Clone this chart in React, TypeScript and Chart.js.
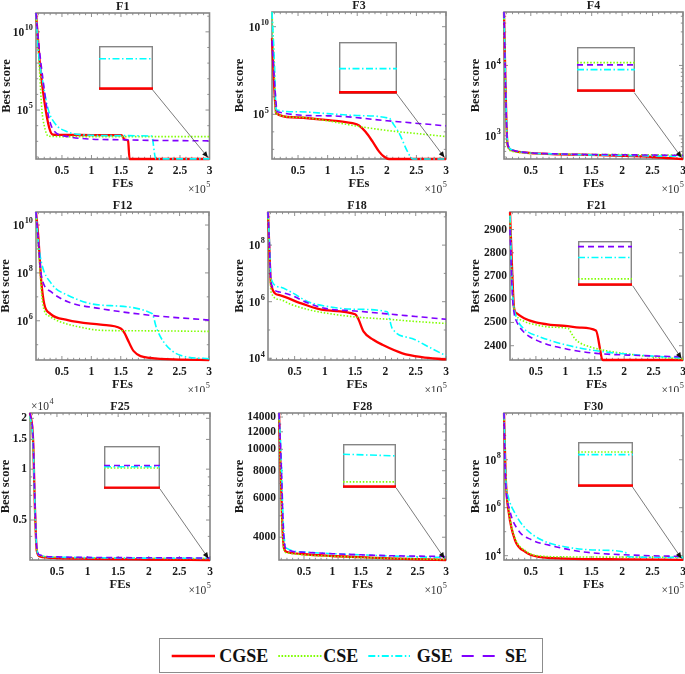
import React, { useEffect, useRef } from 'react';
import { Chart, registerables } from 'chart.js';

Chart.register(...registerables);

type Pt = [number, number];
type InsetVal = number | [number, number] | null;

const SERIES_NAMES = ['CGSE', 'CSE', 'GSE', 'SE'];
const COLORS = ['#ff0000', '#7fff00', '#00ffff', '#8000ff'];
const DASHES: number[][] = [[], [1.5, 1.8], [7, 2.5, 1.5, 2.5], [6, 4]];
const WIDTHS = [2.3, 1.6, 1.6, 1.6];

const X_MIN = 0.06;
const X_MAX = 3;
const X_MAJOR = [0.5, 1, 1.5, 2, 2.5, 3];
const X_LABELS = ['0.5', '1', '1.5', '2', '2.5', '3'];
const X_MINOR = [0.1, 0.2, 0.3, 0.4, 0.6, 0.7, 0.8, 0.9, 1.1, 1.2, 1.3, 1.4, 1.6, 1.7, 1.8, 1.9, 2.1, 2.2, 2.3, 2.4, 2.6, 2.7, 2.8, 2.9];

// ---------- F1 ----------
const F1_CGSE: Pt[] = [[0.06, 1.6e11], [0.1, 1.6e9], [0.13, 6.3e7], [0.2, 4e5], [0.285, 7100], [0.35, 2630], [0.6, 2550], [1.0, 2520], [1.51, 2510], [1.56, 1300], [1.62, 1120], [1.645, 74], [3, 74]];
const F1_CSE: Pt[] = [[0.06, 1.6e11], [0.09, 3.2e9], [0.12, 3.2e7], [0.16, 1e5], [0.2, 1e4], [0.27, 2100], [0.5, 2000], [1, 2000], [2, 1990], [3, 1980]];
const F1_GSE: Pt[] = [[0.06, 1.6e11], [0.1, 6.3e8], [0.18, 5e6], [0.27, 1e5], [0.38, 1.4e4], [0.58, 4200], [0.86, 2600], [1.5, 2300], [2.02, 2150], [2.09, 75], [3, 75]];
const F1_SE: Pt[] = [[0.06, 1.6e11], [0.1, 3e9], [0.18, 8e6], [0.25, 1e5], [0.35, 5600], [0.6, 2000], [1, 1380], [1.5, 1260], [2, 1150], [3, 1070]];
const F1_Y_MAJOR = [1e5, 1e10];
const F1_Y_LABELS = ['10^5', '10^10'];
const F1_Y_MINOR = [1e2, 1e3, 1e4, 1e6, 1e7, 1e8, 1e9, 1e11];
const F1_INSET: InsetVal[] = [0, null, 0.7, null];

// ---------- F3 ----------
const F3_CGSE: Pt[] = [[0.06, 2.2e9], [0.13, 1.15e5], [0.4, 6.8e4], [0.96, 4.8e4], [1.42, 3.1e4], [1.53, 2.3e4], [1.64, 1e4], [1.76, 2750], [1.87, 740], [1.95, 390], [2.04, 282], [3, 282]];
const F3_CSE: Pt[] = [[0.06, 6.9e10], [0.1, 3e7], [0.12, 1.15e5], [0.5, 6.8e4], [1, 4.2e4], [1.5, 2.1e4], [2.1, 1.1e4], [2.5, 8e3], [3, 5.4e3]];
const F3_GSE: Pt[] = [[0.06, 6.9e10], [0.1, 1e8], [0.13, 1.8e5], [0.5, 1.4e5], [1, 1.1e5], [1.5, 8.5e4], [2.04, 5.9e4], [2.12, 2.5e4], [2.21, 8300], [2.35, 740], [2.44, 283], [3, 283]];
const F3_SE: Pt[] = [[0.06, 1.6e9], [0.11, 3e6], [0.15, 1.4e5], [1, 8.2e4], [2, 4.3e4], [3, 2.2e4]];
const F3_Y_MAJOR = [1e5, 1e10];
const F3_Y_LABELS = ['10^5', '10^10'];
const F3_Y_MINOR = [1e3, 1e4, 1e6, 1e7, 1e8, 1e9];
const F3_INSET: InsetVal[] = [0, null, 0.47, null];

// ---------- F4 ----------
const F4_CGSE: Pt[] = [[0.06, 57500], [0.08, 8000], [0.1, 1500], [0.12, 740], [0.2, 620], [0.34, 585], [1, 545], [1.5, 535], [2, 520], [2.5, 500], [3, 468]];
const F4_CSE: Pt[] = [[0.06, 57500], [0.08, 7000], [0.1, 1300], [0.12, 700], [0.2, 600], [0.34, 575], [1, 550], [2, 540], [3, 532]];
const F4_GSE: Pt[] = [[0.06, 57500], [0.08, 9000], [0.1, 1700], [0.12, 780], [0.2, 630], [0.34, 590], [1, 548], [2, 525], [3, 510]];
const F4_SE: Pt[] = [[0.06, 57500], [0.08, 8500], [0.1, 1600], [0.12, 760], [0.2, 625], [0.34, 588], [1, 552], [2, 538], [3, 527]];
const F4_Y_MAJOR = [1e3, 1e4];
const F4_Y_LABELS = ['10^3', '10^4'];
const F4_Y_MINOR = [500, 600, 700, 800, 900, 2000, 3000, 4000, 5000, 6000, 7000, 8000, 9000, 20000, 30000, 40000, 50000];
const F4_INSET: InsetVal[] = [0, 0.64, 0.48, 0.59];

// ---------- F12 ----------
const F12_CGSE: Pt[] = [[0.06, 3.5e10], [0.1, 3e9], [0.15, 4.3e7], [0.2, 5e6], [0.3, 2e6], [0.6, 1.07e6], [1.16, 6.9e5], [1.5, 4.8e5], [1.56, 3.2e5], [1.61, 1.8e5], [1.72, 5.4e4], [2, 2.8e4], [2.5, 2.4e4], [3, 2.3e4]];
const F12_CSE: Pt[] = [[0.06, 3.5e10], [0.09, 2e9], [0.12, 2.9e8], [0.16, 1e7], [0.2, 2.75e6], [0.3, 1.5e6], [0.48, 8.9e5], [0.8, 5.5e5], [1.16, 4e5], [2, 3.8e5], [3, 3.6e5]];
const F12_GSE: Pt[] = [[0.06, 3.5e10], [0.1, 2e9], [0.15, 2.9e8], [0.32, 3.6e7], [0.6, 1.17e7], [1.16, 4.5e6], [2.03, 2e6], [2.11, 4.8e5], [2.23, 1.3e5], [2.51, 3.6e4], [3, 2.6e4]];
const F12_SE: Pt[] = [[0.06, 3.5e10], [0.1, 2e9], [0.15, 8e7], [0.32, 1.6e7], [0.6, 6.2e6], [1.16, 3.2e6], [2, 1.7e6], [3, 1.07e6]];
const F12_Y_MAJOR = [1e6, 1e8, 1e10];
const F12_Y_LABELS = ['10^6', '10^8', '10^10'];
const F12_Y_MINOR = [1e5, 1e7, 1e9];

// ---------- F18 ----------
const F18_CGSE: Pt[] = [[0.06, 1.48e9], [0.08, 1e8], [0.11, 3.9e6], [0.25, 1.7e6], [0.61, 8.7e5], [1, 5e5], [1.5, 3.6e5], [1.55, 2.5e5], [1.64, 8.7e4], [1.8, 4.5e4], [1.95, 3e4], [2.28, 1.5e4], [2.6, 1.1e4], [3, 9100]];
const F18_CSE: Pt[] = [[0.06, 1.48e9], [0.08, 1e8], [0.11, 2.2e6], [0.25, 1.2e6], [0.44, 8e5], [0.72, 5.3e5], [1, 4e5], [1.5, 2.9e5], [2.03, 2.4e5], [2.5, 2e5], [3, 1.7e5]];
const F18_GSE: Pt[] = [[0.06, 1.48e9], [0.08, 2e8], [0.11, 6.6e6], [0.25, 3.3e6], [0.44, 2.2e6], [0.72, 1e6], [1, 7e5], [1.5, 5.4e5], [2.03, 4.4e5], [2.11, 1.15e5], [2.44, 5e4], [2.75, 2.3e4], [3, 1.23e4]];
const F18_SE: Pt[] = [[0.06, 1.48e9], [0.08, 1.5e8], [0.11, 4.5e6], [0.25, 2.2e6], [0.44, 1.7e6], [0.72, 9e5], [1, 5.8e5], [1.5, 4.7e5], [2.03, 3.7e5], [2.5, 3e5], [3, 2.4e5]];
const F18_Y_MAJOR = [1e4, 1e6, 1e8];
const F18_Y_LABELS = ['10^4', '10^6', '10^8'];
const F18_Y_MINOR = [1e5, 1e7, 1e9];

// ---------- F21 ----------
const F21_CGSE: Pt[] = [[0.06, 2975], [0.1, 2700], [0.13, 2560], [0.17, 2540], [0.3, 2518], [0.5, 2500], [0.75, 2490], [1, 2485], [1.25, 2478], [1.52, 2465], [1.64, 2338.5], [3, 2338.5]];
const F21_CSE: Pt[] = [[0.06, 2960], [0.1, 2650], [0.13, 2560], [0.17, 2530], [0.3, 2505], [0.5, 2490], [0.75, 2480], [1.05, 2474], [1.1, 2455], [1.16, 2431], [1.25, 2412], [1.42, 2395], [1.7, 2378], [1.98, 2367], [2.5, 2352], [3, 2343]];
const F21_GSE: Pt[] = [[0.06, 2960], [0.1, 2640], [0.13, 2560], [0.17, 2520], [0.29, 2474], [0.57, 2438], [1.02, 2403], [1.53, 2378], [2.09, 2363], [2.5, 2355], [3, 2347]];
const F21_SE: Pt[] = [[0.06, 2900], [0.1, 2620], [0.13, 2540], [0.17, 2505], [0.29, 2460], [0.57, 2417], [1.02, 2386], [1.53, 2367], [2.26, 2358], [3, 2352]];
const F21_Y_MAJOR = [2400, 2500, 2600, 2700, 2800, 2900];
const F21_Y_LABELS = ['2400', '2500', '2600', '2700', '2800', '2900'];
const F21_Y_MINOR: number[] = [];
const F21_INSET: InsetVal[] = [0, 0.13, 0.62, 0.87];

// ---------- F25 ----------
const F25_CGSE: Pt[] = [[0.06, 21500], [0.11, 15000], [0.14, 6000], [0.17, 3300], [0.22, 3050], [0.5, 2980], [1, 2950], [2, 2920], [3, 2900]];
const F25_CSE: Pt[] = [[0.06, 20500], [0.11, 14000], [0.14, 5800], [0.17, 3350], [0.22, 3080], [0.5, 3010], [1, 2990], [2, 2970], [3, 2960]];
const F25_GSE: Pt[] = [[0.06, 20800], [0.11, 14500], [0.14, 6200], [0.17, 3400], [0.22, 3090], [0.5, 3015], [1, 2995], [2, 2975], [3, 2965]];
const F25_SE: Pt[] = [[0.06, 21500], [0.11, 15500], [0.14, 6500], [0.17, 3450], [0.22, 3100], [0.5, 3025], [1, 3005], [2, 2990], [3, 2980]];
const F25_Y_MAJOR = [5000, 10000, 15000, 20000];
const F25_Y_LABELS = ['0.5', '1', '1.5', '2'];
const F25_Y_MINOR = [3000, 4000, 6000, 7000, 8000, 9000];
const F25_INSET: InsetVal[] = [0, 0.47, 0.5, 0.53];

// ---------- F28 ----------
const F28_CGSE: Pt[] = [[0.06, 14600], [0.09, 8000], [0.12, 4500], [0.15, 3550], [0.2, 3430], [0.5, 3350], [1, 3290], [1.5, 3250], [2, 3210], [2.5, 3180], [3, 3155]];
const F28_CSE: Pt[] = [[0.06, 14000], [0.09, 7500], [0.12, 4300], [0.15, 3480], [0.2, 3400], [0.5, 3330], [1, 3280], [1.5, 3240], [2, 3210], [2.5, 3190], [3, 3170]];
const F28_GSE: Pt[] = [[0.06, 14600], [0.1, 9000], [0.13, 5000], [0.16, 3800], [0.2, 3560], [0.5, 3430], [1, 3370], [1.5, 3330], [2, 3290], [2.5, 3260], [3, 3240]];
const F28_SE: Pt[] = [[0.06, 14600], [0.1, 8500], [0.13, 4800], [0.16, 3700], [0.2, 3520], [0.5, 3420], [1, 3370], [1.5, 3330], [2, 3300], [2.5, 3285], [3, 3270]];
const F28_Y_MAJOR = [4000, 6000, 8000, 10000, 12000, 14000];
const F28_Y_LABELS = ['4000', '6000', '8000', '10000', '12000', '14000'];
const F28_Y_MINOR = [5000, 7000, 9000, 11000, 13000];
const F28_INSET: InsetVal[] = [0, 0.11, [0.76, 0.72], null];

// ---------- F30 ----------
const F30_CGSE: Pt[] = [[0.06, 8.9e9], [0.09, 1.45e7], [0.14, 5.9e5], [0.24, 4.5e4], [0.41, 1.45e4], [0.63, 8900], [1.08, 7600], [2, 7000], [3, 6700]];
const F30_CSE: Pt[] = [[0.06, 8.9e9], [0.09, 2e7], [0.14, 7e5], [0.24, 5.5e4], [0.41, 1.6e4], [0.63, 9800], [1.08, 8900], [2, 8700], [3, 8600]];
const F30_GSE: Pt[] = [[0.06, 8.9e9], [0.09, 1.45e7], [0.13, 2.9e6], [0.24, 5.9e5], [0.41, 1.4e5], [0.68, 4.5e4], [1.08, 2.3e4], [1.63, 1.7e4], [2.05, 1.4e4], [2.1, 9000], [3, 8500]];
const F30_SE: Pt[] = [[0.06, 8.9e9], [0.08, 3e7], [0.155, 8e5], [0.29, 1.2e5], [0.52, 4.5e4], [0.8, 2.75e4], [1.35, 1.45e4], [2.19, 1.05e4], [3, 9300]];
const F30_Y_MAJOR = [1e4, 1e6, 1e8];
const F30_Y_LABELS = ['10^4', '10^6', '10^8'];
const F30_Y_MINOR = [1e5, 1e7, 1e9];
const F30_INSET: InsetVal[] = [0, 0.77, 0.71, null];

type Panel = {
  title: string;
  series: Pt[][];
  cell: [number, number, number, number];
  plot: [number, number, number, number];
  yType: 'linear' | 'logarithmic';
  yMin: number;
  yMax: number;
  yMajor: number[];
  yLabels: string[];
  yMinor: number[];
  labelX: number;
  mult?: string;
  inset?: { rect: [number, number, number, number]; values: InsetVal[] };
};

const PANELS: Panel[] = [
  { title: 'F1', series: [F1_CGSE, F1_CSE, F1_GSE, F1_SE], cell: [0, 0, 228, 193], plot: [36, 13, 209.5, 159], yType: 'logarithmic', yMin: 74, yMax: 1.6e11, yMajor: F1_Y_MAJOR, yLabels: F1_Y_LABELS, yMinor: F1_Y_MINOR, labelX: 7, inset: { rect: [99, 45.7, 152.7, 90], values: F1_INSET } },
  { title: 'F3', series: [F3_CGSE, F3_CSE, F3_GSE, F3_SE], cell: [228, 0, 456, 193], plot: [272, 12, 446, 159], yType: 'logarithmic', yMin: 282, yMax: 6.9e10, yMajor: F3_Y_MAJOR, yLabels: F3_Y_LABELS, yMinor: F3_Y_MINOR, labelX: 240, inset: { rect: [338.7, 41.7, 396.3, 93.3], values: F3_INSET } },
  { title: 'F4', series: [F4_CGSE, F4_CSE, F4_GSE, F4_SE], cell: [456, 0, 685, 193], plot: [504, 12, 683, 159], yType: 'logarithmic', yMin: 468, yMax: 57500, yMajor: F4_Y_MAJOR, yLabels: F4_Y_LABELS, yMinor: F4_Y_MINOR, labelX: 476, inset: { rect: [576.7, 47.3, 634.3, 92.7], values: F4_INSET } },
  { title: 'F12', series: [F12_CGSE, F12_CSE, F12_GSE, F12_SE], cell: [0, 193, 228, 392], plot: [36, 212, 209, 360], yType: 'logarithmic', yMin: 2.3e4, yMax: 3.5e10, yMajor: F12_Y_MAJOR, yLabels: F12_Y_LABELS, yMinor: F12_Y_MINOR, labelX: 6 },
  { title: 'F18', series: [F18_CGSE, F18_CSE, F18_GSE, F18_SE], cell: [228, 193, 456, 392], plot: [268, 212, 446, 360], yType: 'logarithmic', yMin: 8700, yMax: 1.48e9, yMajor: F18_Y_MAJOR, yLabels: F18_Y_LABELS, yMinor: F18_Y_MINOR, labelX: 240 },
  { title: 'F21', series: [F21_CGSE, F21_CSE, F21_GSE, F21_SE], cell: [456, 193, 685, 392], plot: [510, 212, 683, 360], yType: 'linear', yMin: 2338.5, yMax: 2975.6, yMajor: F21_Y_MAJOR, yLabels: F21_Y_LABELS, yMinor: F21_Y_MINOR, labelX: 476, inset: { rect: [578.3, 240.7, 632.7, 285.7], values: F21_INSET } },
  { title: 'F25', series: [F25_CGSE, F25_CSE, F25_GSE, F25_SE], cell: [0, 392, 228, 596], plot: [30, 413, 210, 560], yType: 'logarithmic', yMin: 2900, yMax: 21500, yMajor: F25_Y_MAJOR, yLabels: F25_Y_LABELS, yMinor: F25_Y_MINOR, labelX: 6, mult: '4', inset: { rect: [104, 446, 160, 489], values: F25_INSET } },
  { title: 'F28', series: [F28_CGSE, F28_CSE, F28_GSE, F28_SE], cell: [228, 392, 456, 596], plot: [279, 413, 446, 560], yType: 'logarithmic', yMin: 3155, yMax: 14600, yMajor: F28_Y_MAJOR, yLabels: F28_Y_LABELS, yMinor: F28_Y_MINOR, labelX: 240, inset: { rect: [342.7, 444, 396, 487.7], values: F28_INSET } },
  { title: 'F30', series: [F30_CGSE, F30_CSE, F30_GSE, F30_SE], cell: [456, 392, 685, 596], plot: [504, 413, 683, 560], yType: 'logarithmic', yMin: 6600, yMax: 8.9e9, yMajor: F30_Y_MAJOR, yLabels: F30_Y_LABELS, yMinor: F30_Y_MINOR, labelX: 476, inset: { rect: [577.7, 441.7, 632.3, 486.7], values: F30_INSET } },
];

const FONT = '"Liberation Serif", "Times New Roman", Times, serif';
const AXIS = '#858585';
const TEXT = '#1a1a1a';
const TICK_SIZE = 11.5;
const LABEL_SIZE = 12.5;

function drawPow(ctx: CanvasRenderingContext2D, base: string, exp: string, x: number, y: number, align: 'left' | 'right', weight: string, size: number) {
  ctx.font = `${weight} ${size}px ${FONT}`;
  const wb = ctx.measureText(base).width;
  const es = size * 0.72;
  ctx.font = `${weight} ${es}px ${FONT}`;
  const we = ctx.measureText(exp).width;
  const x0 = align === 'right' ? x - wb - we - 0.5 : x;
  ctx.textAlign = 'left';
  ctx.textBaseline = 'middle';
  ctx.font = `${weight} ${size}px ${FONT}`;
  ctx.fillText(base, x0, y);
  ctx.font = `${weight} ${es}px ${FONT}`;
  ctx.fillText(exp, x0 + wb + 0.5, y - size * 0.42);
}

function powWidth(ctx: CanvasRenderingContext2D, base: string, exp: string, weight: string, size: number) {
  ctx.font = `${weight} ${size}px ${FONT}`;
  const wb = ctx.measureText(base).width;
  ctx.font = `${weight} ${size * 0.72}px ${FONT}`;
  return wb + ctx.measureText(exp).width + 0.5;
}

function decorPlugin(p: Panel) {
  return {
    id: 'decor',
    beforeDatasetsDraw(chart: any) {
      const ctx: CanvasRenderingContext2D = chart.ctx;
      const xs = chart.scales.x;
      const ys = chart.scales.y;
      const { left, right, top, bottom } = chart.chartArea;
      ctx.save();
      const seg = (x1: number, y1: number, x2: number, y2: number) => {
        ctx.beginPath();
        ctx.moveTo(x1, y1);
        ctx.lineTo(x2, y2);
        ctx.stroke();
      };
      ctx.strokeStyle = AXIS;
      ctx.lineWidth = 0.9;
      X_MINOR.forEach((v) => { const x = xs.getPixelForValue(v); seg(x, bottom, x, bottom - 2.2); seg(x, top, x, top + 2.2); });
      X_MAJOR.forEach((v) => { const x = xs.getPixelForValue(v); seg(x, bottom, x, bottom - 4); seg(x, top, x, top + 4); });
      p.yMinor.forEach((v) => { const y = ys.getPixelForValue(v); seg(left, y, left + 2.2, y); seg(right, y, right - 2.2, y); });
      p.yMajor.forEach((v) => { const y = ys.getPixelForValue(v); seg(left, y, left + 4, y); seg(right, y, right - 4, y); });
      ctx.lineWidth = 1.6;
      ctx.strokeRect(left, top, right - left, bottom - top);
      ctx.restore();
    },
    afterDraw(chart: any) {
      const ctx: CanvasRenderingContext2D = chart.ctx;
      const xs = chart.scales.x;
      const ys = chart.scales.y;
      const { left, right, top, bottom } = chart.chartArea;
      const ox = p.cell[0];
      const oy = p.cell[1];
      ctx.save();
      ctx.fillStyle = TEXT;
      // x tick labels
      ctx.font = `bold ${TICK_SIZE}px ${FONT}`;
      ctx.textAlign = 'center';
      ctx.textBaseline = 'middle';
      X_MAJOR.forEach((v, i) => ctx.fillText(X_LABELS[i], xs.getPixelForValue(v), bottom + 12));
      // y tick labels
      p.yMajor.forEach((v, i) => {
        const y = ys.getPixelForValue(v);
        const lab = p.yLabels[i];
        if (lab.includes('^')) {
          const [b, e] = lab.split('^');
          drawPow(ctx, b, e, left - 3, y + 1, 'right', 'bold', TICK_SIZE);
        } else {
          ctx.font = `bold ${TICK_SIZE}px ${FONT}`;
          ctx.textAlign = 'right';
          ctx.textBaseline = 'middle';
          ctx.fillText(lab, left - 3, y);
        }
      });
      // axis titles
      ctx.font = `bold ${LABEL_SIZE}px ${FONT}`;
      ctx.textAlign = 'center';
      ctx.textBaseline = 'middle';
      ctx.fillText('FEs', (left + right) / 2, bottom + 24.5);
      ctx.font = `bold 12px ${FONT}`;
      ctx.fillText(p.title, (left + right) / 2, top - 6.5);
      ctx.font = `bold ${LABEL_SIZE}px ${FONT}`;
      ctx.save();
      ctx.translate(p.labelX - ox, (top + bottom) / 2);
      ctx.rotate(-Math.PI / 2);
      ctx.fillText('Best score', 0, 0);
      ctx.restore();
      // multipliers
      ctx.fillStyle = '#333';
      const mw = powWidth(ctx, '\u00d710', '5', 'normal', TICK_SIZE);
      drawPow(ctx, '\u00d710', '5', right + 1 - mw, bottom + 31, 'left', 'normal', TICK_SIZE);
      if (p.mult) drawPow(ctx, '\u00d710', p.mult, left + 1, top - 6, 'left', 'normal', TICK_SIZE);

      // arrow from inset to the end of the curves
      if (p.inset) {
        const sx = p.inset.rect[2] - ox;
        const sy = p.inset.rect[3] - oy;
        const tx = xs.getPixelForValue(X_MAX) - 1.5;
        const ty = ys.getPixelForValue(p.yMin) - 1.5;
        ctx.strokeStyle = '#444';
        ctx.lineWidth = 0.7;
        ctx.beginPath();
        ctx.moveTo(sx, sy);
        ctx.lineTo(tx, ty);
        ctx.stroke();
        const a = Math.atan2(ty - sy, tx - sx);
        const L = 6, W = 2.6;
        ctx.fillStyle = '#111';
        ctx.beginPath();
        ctx.moveTo(tx, ty);
        ctx.lineTo(tx - L * Math.cos(a) + W * Math.sin(a), ty - L * Math.sin(a) - W * Math.cos(a));
        ctx.lineTo(tx - L * Math.cos(a) - W * Math.sin(a), ty - L * Math.sin(a) + W * Math.cos(a));
        ctx.closePath();
        ctx.fill();
      }
      ctx.restore();
    },
  };
}

function makeMain(canvas: HTMLCanvasElement, p: Panel) {
  const [cl, ct, cr, cb] = p.cell;
  const [pl, pt, pr, pb] = p.plot;
  return new Chart(canvas, {
    type: 'line',
    data: {
      datasets: p.series.map((pts, i) => ({
        label: SERIES_NAMES[i],
        data: pts.map(([x, y]) => ({ x, y })),
        borderColor: COLORS[i],
        backgroundColor: COLORS[i],
        borderWidth: WIDTHS[i],
        borderDash: DASHES[i],
        pointRadius: 0,
        fill: false,
        cubicInterpolationMode: 'monotone',
        order: 3 - i,
        clip: 3,
      })),
    },
    options: {
      responsive: false,
      animation: false,
      devicePixelRatio: 1,
      events: [],
      layout: { padding: { left: pl - cl, top: pt - ct, right: cr - pr, bottom: cb - pb } },
      scales: {
        x: { type: 'linear', display: false, min: X_MIN, max: X_MAX },
        y: { type: p.yType, display: false, min: p.yMin, max: p.yMax },
      },
      plugins: { legend: { display: false }, tooltip: { enabled: false }, title: { display: false } },
    } as any,
    plugins: [decorPlugin(p)],
  });
}

function makeInset(canvas: HTMLCanvasElement, values: InsetVal[]) {
  const datasets: any[] = [];
  values.forEach((v, i) => {
    if (v === null) return;
    const [a, b] = Array.isArray(v) ? v : [v, v];
    datasets.push({
      label: SERIES_NAMES[i],
      data: [{ x: 0, y: a }, { x: 1, y: b }],
      borderColor: COLORS[i],
      borderWidth: WIDTHS[i],
      borderDash: DASHES[i],
      pointRadius: 0,
      fill: false,
      order: 3 - i,
      clip: 4,
    });
  });
  return new Chart(canvas, {
    type: 'line',
    data: { datasets },
    options: {
      responsive: false,
      animation: false,
      devicePixelRatio: 1,
      events: [],
      layout: { padding: 0 },
      scales: {
        x: { type: 'linear', display: false, min: 0, max: 1 },
        y: { type: 'linear', display: false, min: -0.035, max: 1 },
      },
      plugins: { legend: { display: false }, tooltip: { enabled: false } },
    } as any,
    plugins: [
      {
        id: 'insetFrame',
        beforeDatasetsDraw(chart: any) {
          const ctx = chart.ctx;
          ctx.save();
          ctx.fillStyle = '#fff';
          ctx.fillRect(0, 0, chart.width, chart.height);
          ctx.strokeStyle = '#858585';
          ctx.lineWidth = 1.4;
          ctx.strokeRect(0.7, 0.7, chart.width - 1.4, chart.height - 1.4);
          ctx.restore();
        },
      },
    ],
  });
}

const LEGEND_LINES: [number, number][] = [[12.7, 56], [119.3, 162.7], [209.3, 251], [302.7, 344.3]];
const LEGEND_TEXT_X = [60.3, 164.3, 257.7, 346];
const LEGEND_DASH = ['', '1.6 1.6', '7 2.5 1.5 2.5', '12 9'];
const LEGEND_W = [2.6, 2, 2, 2];

function Legend() {
  return (
    <svg width={385} height={36} style={{ position: 'absolute', left: 159, top: 638 }}>
      <rect x={0.5} y={0.5} width={383} height={34} fill="#fff" stroke="#8c8c8c" strokeWidth={1} />
      {SERIES_NAMES.map((n, i) => (
        <g key={n}>
          <line x1={LEGEND_LINES[i][0]} x2={LEGEND_LINES[i][1]} y1={18} y2={18} stroke={COLORS[i]} strokeWidth={LEGEND_W[i]} strokeDasharray={LEGEND_DASH[i] || undefined} />
          <text x={LEGEND_TEXT_X[i]} y={18} dominantBaseline="central" style={{ fontFamily: "'Liberation Serif', 'Times New Roman', serif", fontWeight: 700, fontSize: 18 }} fill="#111">{n}</text>
        </g>
      ))}
    </svg>
  );
}

export default function App() {
  const mainRefs = useRef<(HTMLCanvasElement | null)[]>([]);
  const insetRefs = useRef<(HTMLCanvasElement | null)[]>([]);
  useEffect(() => {
    const charts: Chart[] = [];
    PANELS.forEach((p, i) => {
      const c = mainRefs.current[i];
      if (c) charts.push(makeMain(c, p));
      const ic = insetRefs.current[i];
      if (ic && p.inset) charts.push(makeInset(ic, p.inset.values));
    });
    return () => charts.forEach((c) => c.destroy());
  }, []);
  return (
    <div style={{ position: 'fixed', left: 0, top: 0, width: 685, height: 674, background: '#fff', overflow: 'hidden' }}>
      {PANELS.map((p, i) => {
        const w = p.cell[2] - p.cell[0];
        const h = p.cell[3] - p.cell[1];
        return (
          <canvas key={'m' + i} ref={(el) => { mainRefs.current[i] = el; }} width={w} height={h}
            style={{ position: 'absolute', left: p.cell[0], top: p.cell[1], width: w, height: h, display: 'block' }} />
        );
      })}
      {PANELS.map((p, i) => {
        if (!p.inset) return null;
        const [l, t, r, b] = p.inset.rect;
        const w = Math.round(r - l);
        const h = Math.round(b - t);
        return (
          <canvas key={'i' + i} ref={(el) => { insetRefs.current[i] = el; }} width={w} height={h}
            style={{ position: 'absolute', left: Math.round(l), top: Math.round(t), width: w, height: h, display: 'block' }} />
        );
      })}
      <Legend />
    </div>
  );
}
